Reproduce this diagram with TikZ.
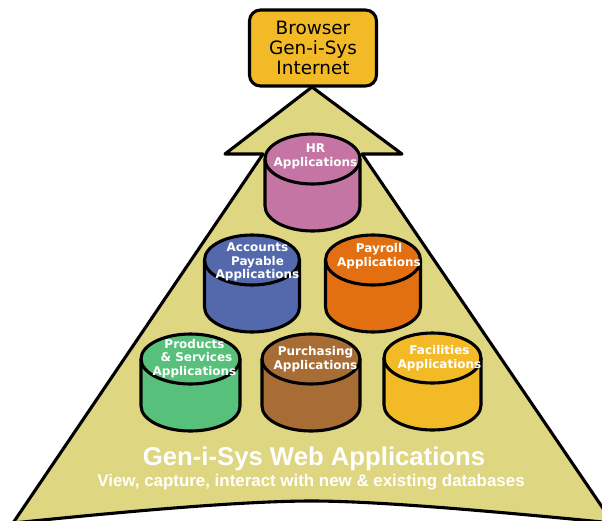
\documentclass[tikz,border=0pt]{standalone}
\usepackage{fontspec}
\setmainfont{DejaVu Sans}
\newfontfamily\headfont{Liberation Sans}
\definecolor{arrowfill}{HTML}{DED681}
\definecolor{boxfill}{HTML}{F3BA27}
\definecolor{hrc}{HTML}{C575A3}
\definecolor{apc}{HTML}{5468AC}
\definecolor{payc}{HTML}{E27012}
\definecolor{prodc}{HTML}{57C07A}
\definecolor{purc}{HTML}{A76D35}
\definecolor{facc}{HTML}{F3BA27}
\tikzset{
  outline/.style={draw=black,line width=3.1pt,line join=round},
  cyltext/.style={text=white,font=\fontsize{12}{13.8}\selectfont\bfseries,align=center,inner sep=0pt},
  headtext/.style={text=white,inner sep=0pt,align=center},
}
% #1 name, #2 centre x, #3 top y, #4 half width, #5 colour, #6 text y, #7 text x, #8 text
\newcommand{\dbcyl}[8]{%
  \draw[outline,fill=#5] (#2-#4,#3+25)
    .. controls (#2-#4,#3+11.2) and (#2-0.552*#4,#3) .. (#2,#3)
    .. controls (#2+0.552*#4,#3) and (#2+#4,#3+11.2) .. (#2+#4,#3+25)
    -- (#2+#4,#3+72)
    .. controls (#2+#4,#3+85.8) and (#2+0.552*#4,#3+97) .. (#2,#3+97)
    .. controls (#2-0.552*#4,#3+97) and (#2-#4,#3+85.8) .. (#2-#4,#3+72)
    -- cycle;
  \draw[outline] (#2-#4,#3+25)
    .. controls (#2-#4,#3+38.8) and (#2-0.552*#4,#3+50) .. (#2,#3+50)
    .. controls (#2+0.552*#4,#3+50) and (#2+#4,#3+38.8) .. (#2+#4,#3+25);
  \node[cyltext] (#1) at (#7,#6) {#8};
}
\begin{document}
\begin{tikzpicture}[x=1pt,y=-1pt]
\useasboundingbox (0,0) rectangle (602,520);
\begin{scope}
\clip (0,0) rectangle (602,520);
\draw[outline,fill=arrowfill] (312,87) -- (402,154) -- (362,154) -- (613,523)
  .. controls (500,512) and (380,501) .. (312,501)
  .. controls (240,501) and (120,512) .. (13,523)
  -- (263,154) -- (225,154) -- cycle;
\end{scope}
\node[draw=black,line width=3.1pt,fill=boxfill,rounded corners=11pt,minimum width=127pt,minimum height=76pt,inner sep=0pt,align=center,font=\fontsize{18.4}{20.4}\selectfont] (browser) at (313,48) {Browser\\Gen-i-Sys\\Internet};
\dbcyl{hr}{312.5}{134}{47.5}{hrc}{156}{315.5}{HR\\Applications}
\dbcyl{ap}{252}{235}{47.5}{apc}{262}{257.5}{Accounts\\Payable\\Applications}
\dbcyl{pay}{373}{235}{47.5}{payc}{256.5}{379}{Payroll\\Applications}
\dbcyl{prod}{190.5}{334}{49.5}{prodc}{358.5}{194.5}{Products\\\,\,\& Services\\Applications}
\dbcyl{pur}{311}{334}{49}{purc}{359}{315.5}{Purchasing\\Applications}
\dbcyl{fac}{432.5}{333}{48.5}{facc}{358}{439.5}{Facilities\\Applications}
\node[headtext,font=\headfont\bfseries\fontsize{25.7}{28}\selectfont] (title) at (314,459) {Gen-i-Sys Web Applications};
\node[headtext,font=\headfont\bfseries\fontsize{16.9}{19}\selectfont] (subtitle) at (311,482.5) {View, capture, interact with new \& existing databases};
\end{tikzpicture}
\end{document}
